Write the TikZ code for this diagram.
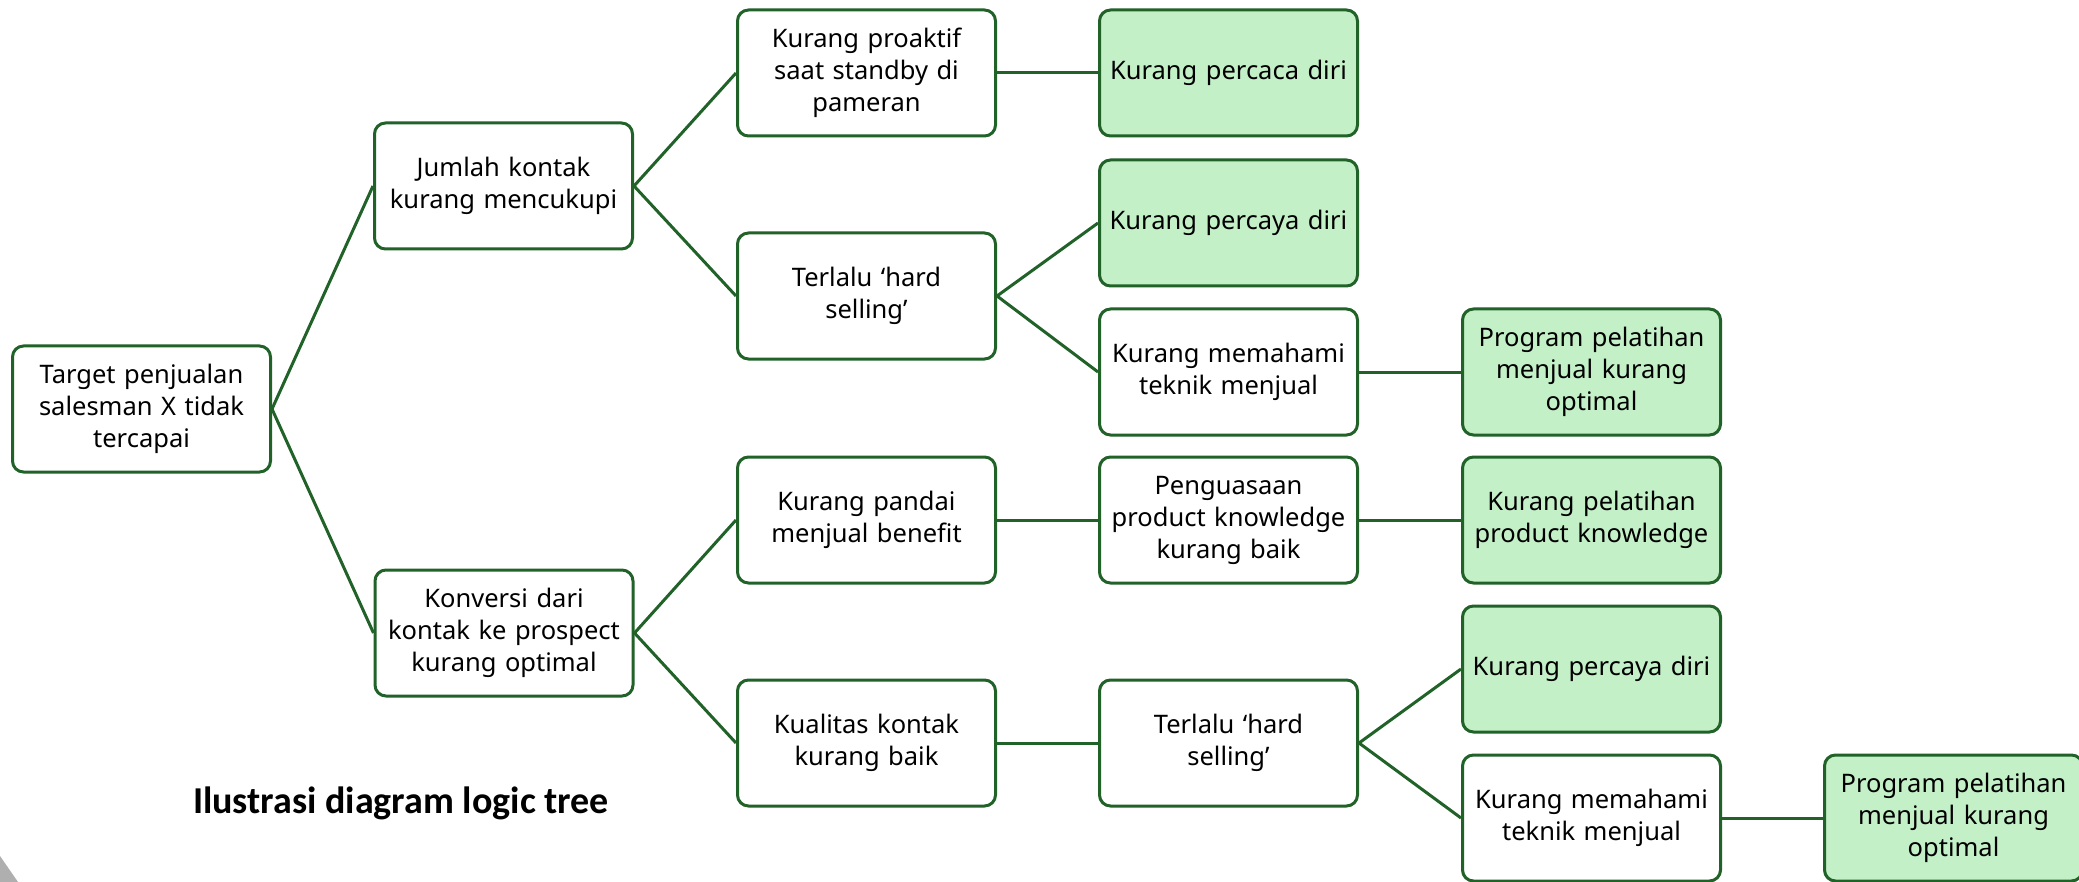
\documentclass[tikz,border=0pt]{standalone}
\usepackage{fontspec}
\setmainfont{Noto Sans}
\newfontfamily\titlefont{Carlito}
\definecolor{bordgreen}{RGB}{33,98,40}
\definecolor{fillgreen}{RGB}{196,240,200}
\definecolor{shadowgray}{RGB}{175,175,175}
\begin{document}
\begin{tikzpicture}[x=1pt,y=-1pt,
  box/.style={draw=bordgreen, line width=3pt, rounded corners=11pt, fill=white,
    minimum width=258pt, minimum height=126pt, text width=252pt, align=center,
    inner sep=0pt, font=\fontsize{25.5}{32}\selectfont},
  leaf/.style={box, fill=fillgreen},
  conn/.style={draw=bordgreen, line width=3pt}]
\useasboundingbox (0,0) rectangle (2079,882);
\fill[white] (0,0) rectangle (2079,882);
\fill[shadowgray] (0,856) -- (18,882) -- (0,882) -- cycle;

\node[box] (root) at (141.5,409) {Target penjualan\\salesman X tidak\\tercapai};
\node[box] (n1) at (503.5,186) {Jumlah kontak\\kurang mencukupi};
\node[box] (n2) at (504,633) {Konversi dari\\kontak ke prospect\\kurang optimal};

\node[box] (a1) at (866.5,73) {Kurang proaktif\\saat standby di\\pameran};
\node[box] (a2) at (866.5,296) {Terlalu ‘hard\\selling’};
\node[box] (a3) at (866.5,520) {Kurang pandai\\menjual benefit};
\node[box] (a4) at (866.5,743) {Kualitas kontak\\kurang baik};

\node[leaf] (b1) at (1228.5,73) {Kurang percaca diri};
\node[leaf] (b2) at (1228.5,223) {Kurang percaya diri};
\node[box] (b3) at (1228.5,372) {Kurang memahami\\teknik menjual};
\node[box] (b4) at (1228.5,520) {Penguasaan\\product knowledge\\kurang baik};
\node[box] (b5) at (1228.5,743) {Terlalu ‘hard\\selling’};

\node[leaf] (c1) at (1591.5,372) {Program pelatihan\\menjual kurang\\optimal};
\node[leaf] (c2) at (1591.5,520) {Kurang pelatihan\\product knowledge};
\node[leaf] (c3) at (1591.5,669) {Kurang percaya diri};
\node[box] (c4) at (1591.5,818) {Kurang memahami\\teknik menjual};

\node[leaf] (d1) at (1953.5,818) {Program pelatihan\\menjual kurang\\optimal};

\node[font=\titlefont\bfseries\fontsize{38}{44}\selectfont, anchor=center, inner sep=0pt] (title) at (401,803) {Ilustrasi diagram logic tree};

\draw[conn] (root.east) -- (n1.west);
\draw[conn] (root.east) -- (n2.west);
\draw[conn] (n1.east) -- (a1.west);
\draw[conn] (n1.east) -- (a2.west);
\draw[conn] (n2.east) -- (a3.west);
\draw[conn] (n2.east) -- (a4.west);
\draw[conn] (a1.east) -- (b1.west);
\draw[conn] (a2.east) -- (b2.west);
\draw[conn] (a2.east) -- (b3.west);
\draw[conn] (a3.east) -- (b4.west);
\draw[conn] (a4.east) -- (b5.west);
\draw[conn] (b3.east) -- (c1.west);
\draw[conn] (b4.east) -- (c2.west);
\draw[conn] (b5.east) -- (c3.west);
\draw[conn] (b5.east) -- (c4.west);
\draw[conn] (c4.east) -- (d1.west);
\end{tikzpicture}
\end{document}
